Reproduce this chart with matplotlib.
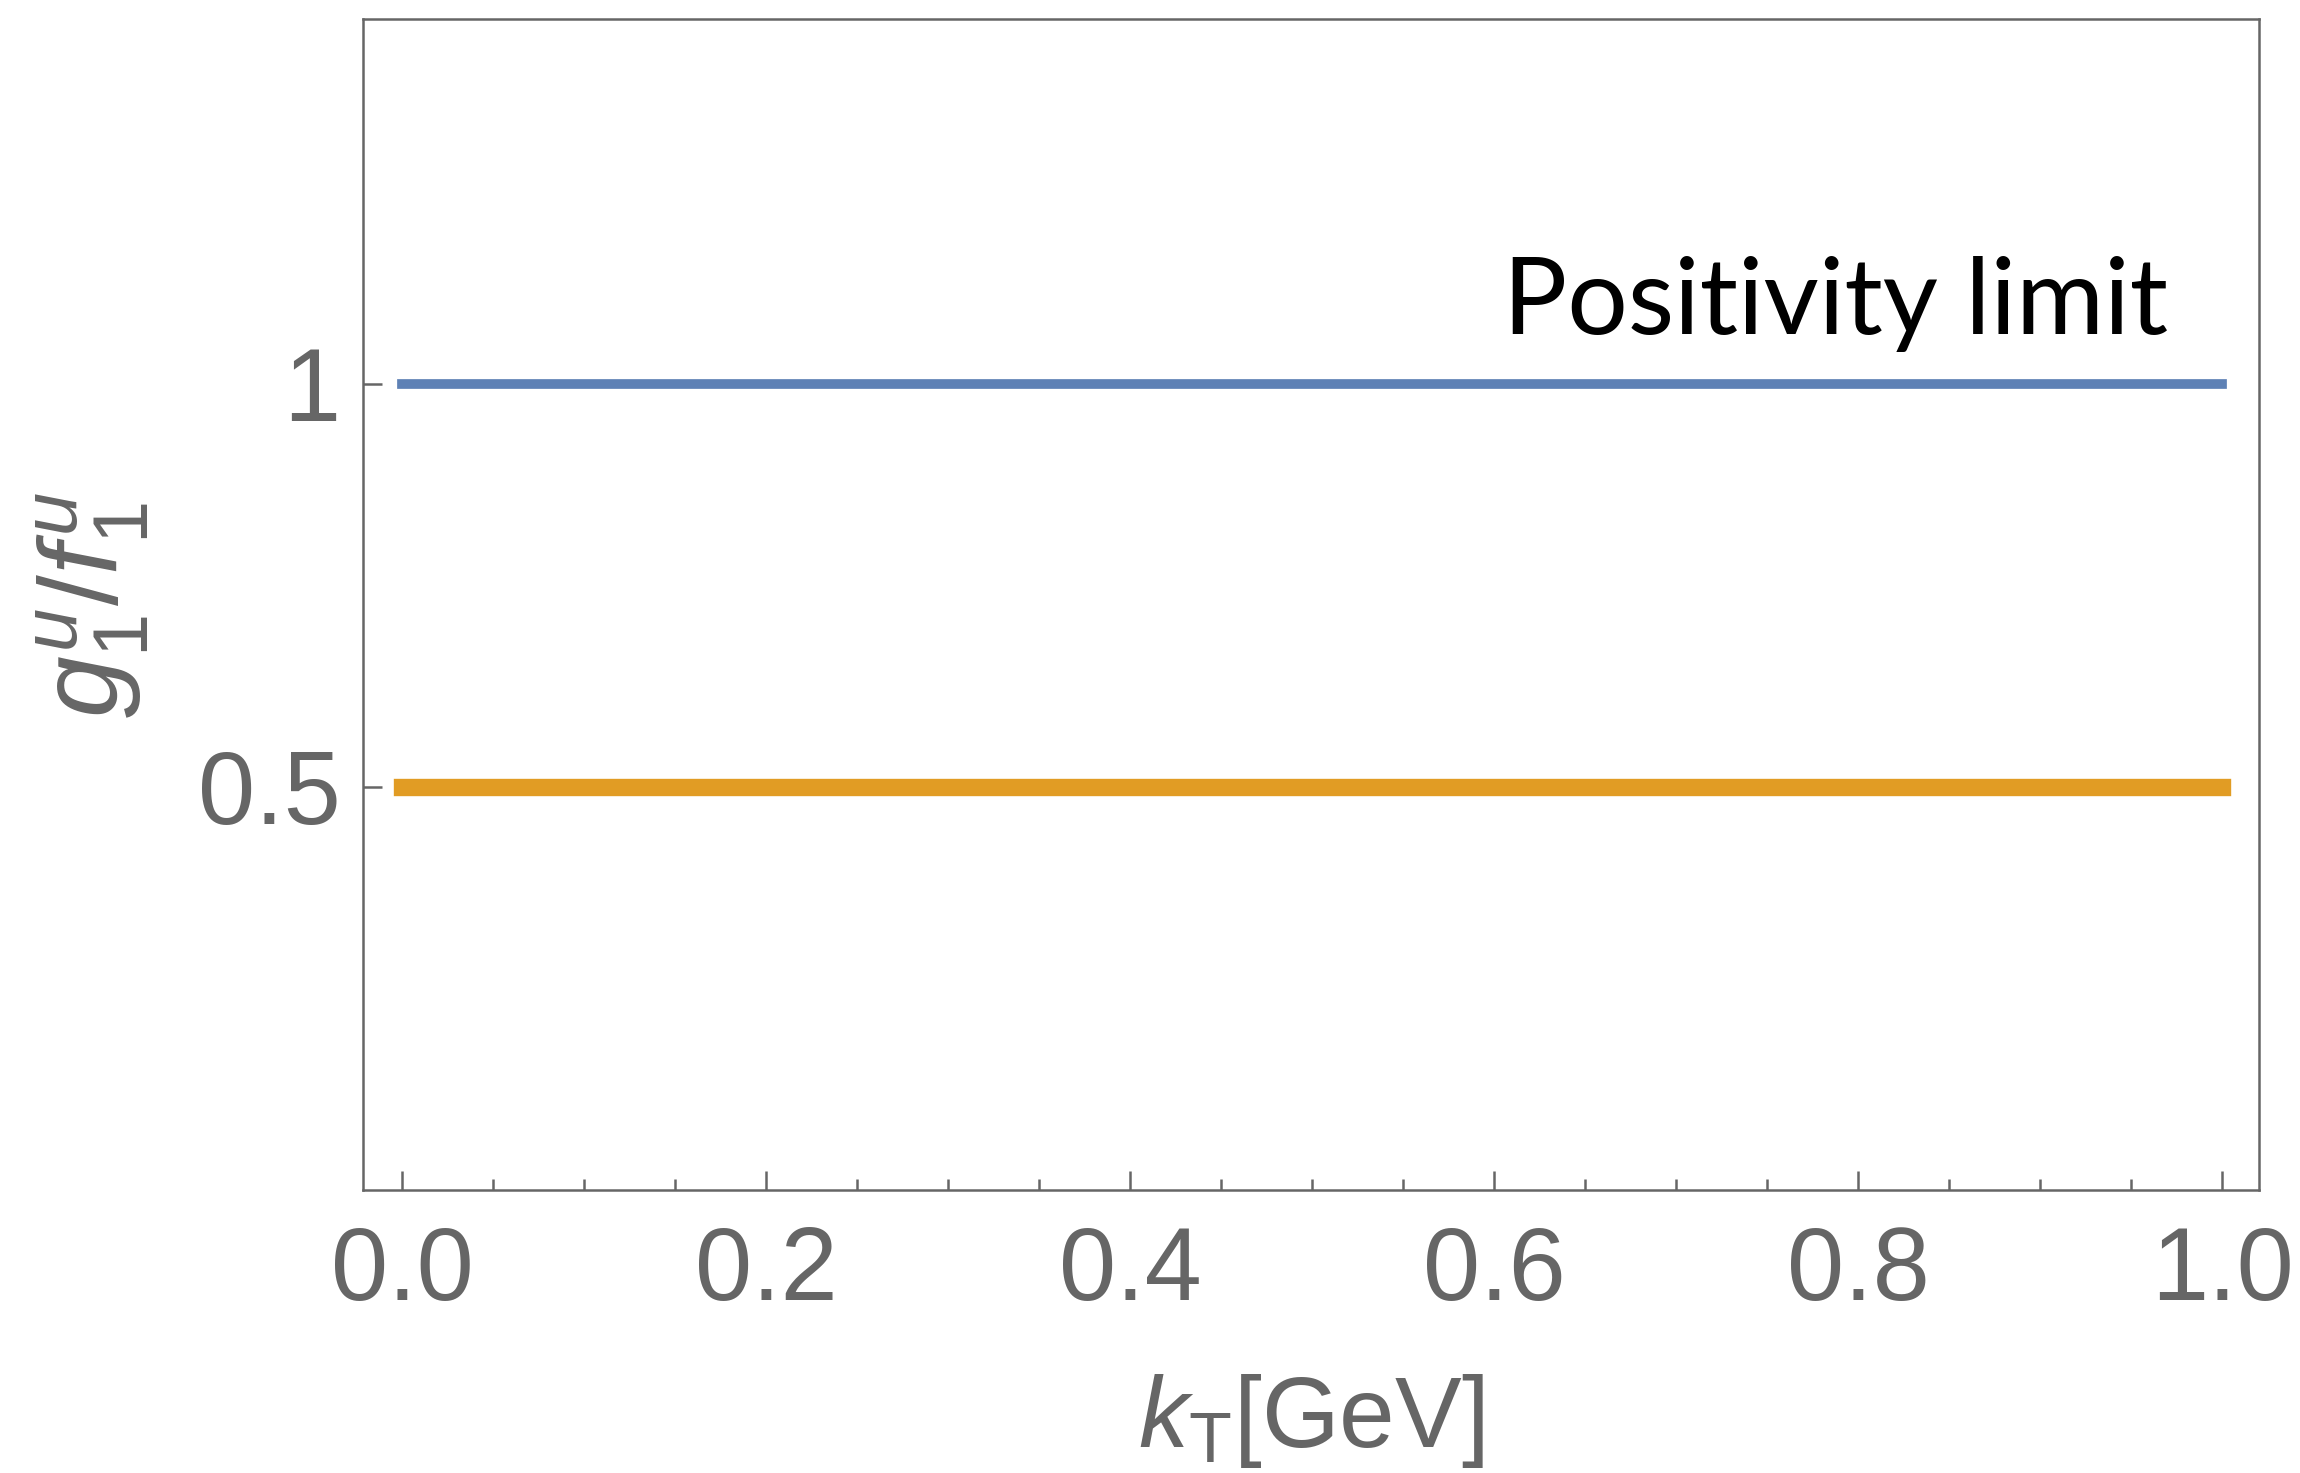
import numpy as np
import matplotlib
matplotlib.use("Agg")
import matplotlib.pyplot as plt
from matplotlib.ticker import FixedLocator, MultipleLocator

plt.rcParams['font.family'] = ['Liberation Sans', 'DejaVu Sans']
plt.rcParams['mathtext.fontset'] = 'custom'
plt.rcParams['mathtext.rm'] = 'Liberation Sans'
plt.rcParams['mathtext.it'] = 'Liberation Sans:italic'
plt.rcParams['mathtext.bf'] = 'Liberation Sans:bold'

# Data: ratio g1^u / f1^u versus transverse momentum
kT = [0.0, 1.0]
positivity_limit = [1.0, 1.0]
ratio = [0.5, 0.5]

x_ticks = [0.0, 0.2, 0.4, 0.6, 0.8, 1.0]
x_tick_labels = ["0.0", "0.2", "0.4", "0.6", "0.8", "1.0"]
y_ticks = [0.5, 1.0]
y_tick_labels = ["0.5", "1"]

GRAY = "#666666"
BLUE = "#5E81B5"
ORANGE = "#E19C24"

fig = plt.figure(figsize=(23, 14.73), dpi=100)
ax = fig.add_axes([0.1578, 0.1921, 0.8244, 0.7950])

ax.plot(kT, positivity_limit, color=BLUE, lw=7, solid_capstyle='projecting')
ax.plot(kT, ratio, color=ORANGE, lw=12.5, solid_capstyle='projecting')

ax.set_xlim(-0.0214, 1.0203)
ax.set_ylim(0.0, 1.452)

ax.xaxis.set_major_locator(FixedLocator(x_ticks))
ax.set_xticklabels(x_tick_labels)
ax.xaxis.set_minor_locator(MultipleLocator(0.05))
ax.yaxis.set_major_locator(FixedLocator(y_ticks))
ax.set_yticklabels(y_tick_labels)

for s in ax.spines.values():
    s.set_color(GRAY)
    s.set_linewidth(1.8)

ax.tick_params(axis='x', which='major', direction='in', length=13.5, width=1.8,
               color=GRAY, labelcolor=GRAY, labelsize=74, pad=25)
ax.tick_params(axis='x', which='minor', direction='in', length=8, width=1.8,
               color=GRAY)
ax.tick_params(axis='y', which='major', direction='in', length=13.5, width=1.8,
               color=GRAY, labelcolor=GRAY, labelsize=74, pad=16)
ax.tick_params(axis='y', which='minor', left=False)

ax.set_xlabel(r'$k_{\mathrm{T}}$[GeV]', fontsize=72, color=GRAY, labelpad=36)
ax.set_ylabel(r'$g_1^u/f_1^u$', fontsize=80, color=GRAY, labelpad=34)

ax.text(0.970, 1.061, "Positivity limit", fontsize=77, color="black",
        family=['Lato', 'DejaVu Sans'], ha='right', va='baseline')

fig.savefig("out.png", dpi=100, facecolor="white")
